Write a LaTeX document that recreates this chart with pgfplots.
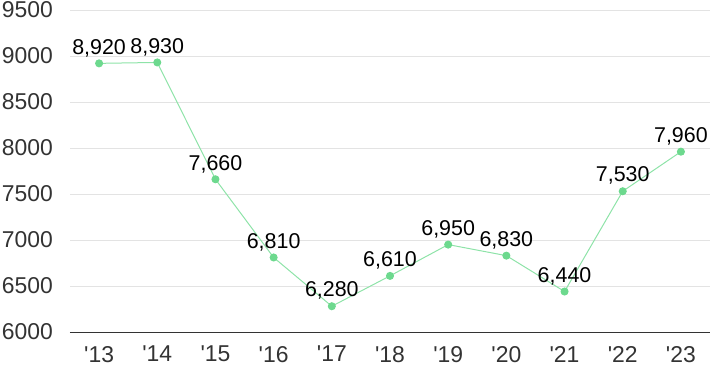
\documentclass[border=0pt]{standalone}
\usepackage{fontspec}
\setmainfont{Liberation Sans}
\newfontfamily\plainfont{Liberation Sans}
\usepackage{pgfplots}
\pgfplotsset{compat=1.18}
\definecolor{lineg}{HTML}{8EE3A8}
\definecolor{markg}{HTML}{6DD98E}
\definecolor{gridg}{HTML}{E3E3E3}
\definecolor{tickc}{HTML}{333333}
\begin{document}
\begin{tikzpicture}
\begin{axis}[
  scale only axis,
  width=640bp, height=322bp,
  xmin=-0.5, xmax=10.5,
  ymin=6000, ymax=9500,
  xtick={0,...,10},
  xticklabels={'13,'14,'15,'16,'17,'18,'19,'20,'21,'22,'23},
  ytick={6000,6500,...,9500},
  /pgf/number format/assume math mode=true,
  yticklabel={\pgfmathprintnumber[1000 sep={}]{\tick}},
  ymajorgrids,
  grid style={gridg, line width=0.8bp},
  axis x line*=bottom,
  axis y line*=left,
  y axis line style={draw=none},
  x axis line style={draw=tickc, line width=1bp, -},
  major tick length=0pt,
  tick style={draw=none},
  xticklabel style={font=\plainfont\fontsize{23}{26}\selectfont, text=tickc, anchor=north, inner sep=0pt, yshift=-14bp},
  yticklabel style={font=\fontsize{23}{26}\selectfont, text=tickc, anchor=east, inner sep=0pt, xshift=-17bp},
  nodes near coords,
  nodes near coords style={font=\fontsize{21.5}{24}\selectfont, text=black, anchor=south, inner sep=0pt, yshift=6bp,
    /pgf/number format/.cd, 1000 sep={,}, assume math mode=true},
  clip=false,
]
\addplot[color=lineg, line width=1bp, mark=*, mark size=3.5bp, mark options={fill=markg, draw=markg}]
coordinates {(0,8920) (1,8930) (2,7660) (3,6810) (4,6280) (5,6610) (6,6950) (7,6830) (8,6440) (9,7530) (10,7960)};
\end{axis}
\pgfresetboundingbox
\path (-70bp,-39bp) rectangle (640bp,332bp);
\end{tikzpicture}
\end{document}
